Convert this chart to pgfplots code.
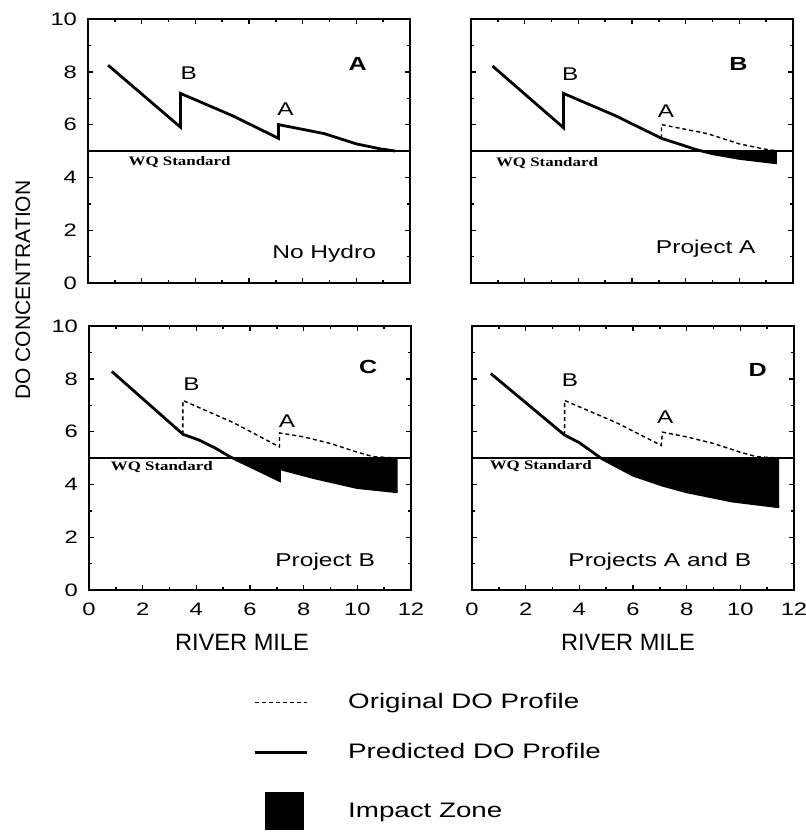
\documentclass[border=0pt]{standalone}
\usepackage{fontspec}
\setmainfont{Liberation Sans}
\newfontfamily\widefont{Liberation Sans}[FakeStretch=1.32]
\newfontfamily\wqfont{Liberation Serif}[FakeStretch=1.3]
\usepackage{pgfplots}
\pgfplotsset{compat=1.18}

\pgfplotsset{
  panel/.style={
    scale only axis, width=161pt, height=132pt,
    xmin=0, xmax=12, ymin=0, ymax=10,
    xtick={0,2,...,12}, ytick={0,2,...,10},
    minor x tick num=1, minor y tick num=1,
    tick align=inside, tick pos=both,
    major tick length=2.5pt, minor tick length=1.5pt,
    axis line style={line width=0.9pt},
    every tick/.style={line width=0.7pt, black},
    tick label style={font=\widefont\fontsize{9}{10}\selectfont},
    xticklabel style={yshift=-3pt},
    yticklabel style={xshift=-2pt},
    /pgf/number format/assume math mode=true,
    clip=false, anchor=south west,
  },
  predicted/.style={black, line width=1.4pt, line join=miter},
  original/.style={black, line width=0.7pt, dash pattern=on 2pt off 1.5pt},
  wqline/.style={black, line width=0.7pt},
  impact/.style={fill=black, draw=none},
}
\tikzset{
  peak/.style={font=\widefont\fontsize{9.2}{10}\selectfont},
  tag/.style={font=\widefont\bfseries\fontsize{9.5}{10}\selectfont},
  note/.style={font=\widefont\fontsize{9.3}{11}\selectfont},
  wq/.style={font=\wqfont\bfseries\fontsize{6.5}{7}\selectfont, anchor=west, inner sep=0pt},
}

\begin{document}
\begin{tikzpicture}
\path[use as bounding box] (0pt,0pt) rectangle (403pt,-416pt);

% ---- A: no hydro
\begin{axis}[panel, at={(44pt,-141.5pt)}, xticklabels={}]
  \addplot[wqline] coordinates {(0,5) (12,5)};
  \addplot[predicted] coordinates {
    (0.75,8.25) (3.45,5.9) (3.45,7.18) (5.4,6.33) (7.1,5.48) (7.1,6.0)
    (8,5.82) (8.8,5.66) (10,5.27) (10.9,5.08) (11.45,5.0)};
  \node[peak] at (axis cs:3.75,7.95) {B};
  \node[peak] at (axis cs:7.36,6.58) {A};
  \node[tag] at (axis cs:10.05,8.3) {A};
  \node[note] at (axis cs:8.8,1.1) {No Hydro};
  \node[wq] at (axis cs:1.5,4.58) {WQ Standard};
\end{axis}

% ---- B: project A
\begin{axis}[panel, at={(235.5pt,-141.5pt)}, xticklabels={}, yticklabels={}]
  \addplot[impact] coordinates {
    (8.6,5.0) (9,4.9) (10,4.72) (11.4,4.55) (11.4,5.0)} -- cycle;
  \addplot[wqline] coordinates {(0,5) (12,5)};
  \addplot[original] coordinates {
    (7.1,5.48) (7.1,6.0) (8,5.82) (8.8,5.66) (10,5.27) (10.9,5.08) (11.45,5.0)};
  \addplot[predicted] coordinates {
    (0.8,8.22) (3.45,5.88) (3.45,7.18) (5.4,6.33) (7.1,5.48) (7.8,5.25)
    (8.4,5.05) (9,4.9) (10,4.72) (11.4,4.55)};
  \node[peak] at (axis cs:3.7,7.9) {B};
  \node[peak] at (axis cs:7.27,6.5) {A};
  \node[tag] at (axis cs:9.97,8.3) {B};
  \node[note] at (axis cs:8.75,1.3) {Project A};
  \node[wq] at (axis cs:0.92,4.55) {WQ Standard};
\end{axis}

% ---- C: project B
\begin{axis}[panel, at={(44.5pt,-295pt)}]
  \addplot[impact] coordinates {
    (5.35,5.0) (6.1,4.64) (7.1,4.15) (7.1,4.6) (8.4,4.25) (10,3.88)
    (11.5,3.72) (11.5,5.0)} -- cycle;
  \addplot[wqline] coordinates {(0,5) (12,5)};
  \addplot[original] coordinates {
    (3.5,5.9) (3.5,7.18) (5.4,6.33) (7.1,5.42) (7.1,5.95) (8,5.8)
    (9,5.55) (10,5.22) (10.6,5.05) (11.45,5.0)};
  \addplot[predicted] coordinates {
    (0.85,8.28) (3.5,5.9) (4.1,5.68) (4.7,5.38) (5.25,5.05) (6.1,4.64)
    (7.1,4.15) (7.1,4.6) (8.4,4.25) (10,3.88) (11.5,3.72)};
  \node[peak] at (axis cs:3.82,7.8) {B};
  \node[peak] at (axis cs:7.38,6.38) {A};
  \node[tag] at (axis cs:10.4,8.45) {C};
  \node[note] at (axis cs:8.8,1.07) {Project B};
  \node[wq] at (axis cs:0.8,4.64) {WQ Standard};
\end{axis}

% ---- D: projects A and B, with the legend
\begin{axis}[panel, at={(236pt,-295pt)}, yticklabels={},
    legend cell align=left,
    legend style={at={(axis description cs:-0.680,-0.386)}, anchor=north west,
      draw=none, fill=none, inner sep=0pt, row sep=15pt, column sep=20pt,
      nodes={inner sep=0pt},
      font=\widefont\fontsize{10.5}{12}\selectfont}]
  \addlegendimage{legend image code/.code={
    \path[draw=none, fill=none] (0pt,-5pt) rectangle (26pt,5pt);
    \draw[black, line width=0.7pt, dash pattern=on 2pt off 1.5pt] (0pt,0pt) -- (26pt,0pt);}}
  \addlegendentry{Original DO Profile}
  \addlegendimage{legend image code/.code={
    \path[draw=none, fill=none] (0pt,-5pt) rectangle (26pt,5pt);
    \draw[black, line width=1.4pt] (0pt,0pt) -- (26pt,0pt);}}
  \addlegendentry{Predicted DO Profile}
  \addlegendimage{legend image code/.code={
    \path[draw=none, fill=none] (0pt,-9.5pt) rectangle (26pt,9.5pt);
    \fill[black, draw=none] (5pt,-9.5pt) rectangle (24.5pt,9.5pt);}}
  \addlegendentry{Impact Zone}

  \addplot[impact, forget plot] coordinates {
    (4.8,5.0) (6,4.35) (7.1,3.97) (8,3.72) (9.7,3.37) (11.45,3.15)
    (11.45,5.0)} -- cycle;
  \addplot[wqline, forget plot] coordinates {(0,5) (12,5)};
  \addplot[original, forget plot] coordinates {
    (3.45,5.87) (3.45,7.18) (5.4,6.33) (7.05,5.48) (7.1,5.98) (8,5.8)
    (9,5.55) (10,5.22) (10.6,5.05) (11.45,5.0)};
  \addplot[predicted, forget plot] coordinates {
    (0.7,8.2) (3.45,5.87) (4.0,5.58) (4.8,5.0) (6,4.35) (7.1,3.97)
    (8,3.72) (9.7,3.37) (11.45,3.15)};
  \node[peak] at (axis cs:3.65,7.94) {B};
  \node[peak] at (axis cs:7.2,6.55) {A};
  \node[tag] at (axis cs:10.65,8.34) {D};
  \node[note] at (axis cs:7.0,1.09) {Projects A and B};
  \node[wq] at (axis cs:0.65,4.68) {WQ Standard};
\end{axis}

\node[rotate=90, font=\fontsize{10.5}{12}\selectfont] at (11.5pt,-145pt) {DO CONCENTRATION};
\node[font=\fontsize{11.8}{13}\selectfont] at (121pt,-321pt) {RIVER MILE};
\node[font=\fontsize{11.8}{13}\selectfont] at (314pt,-321pt) {RIVER MILE};
\end{tikzpicture}
\end{document}
